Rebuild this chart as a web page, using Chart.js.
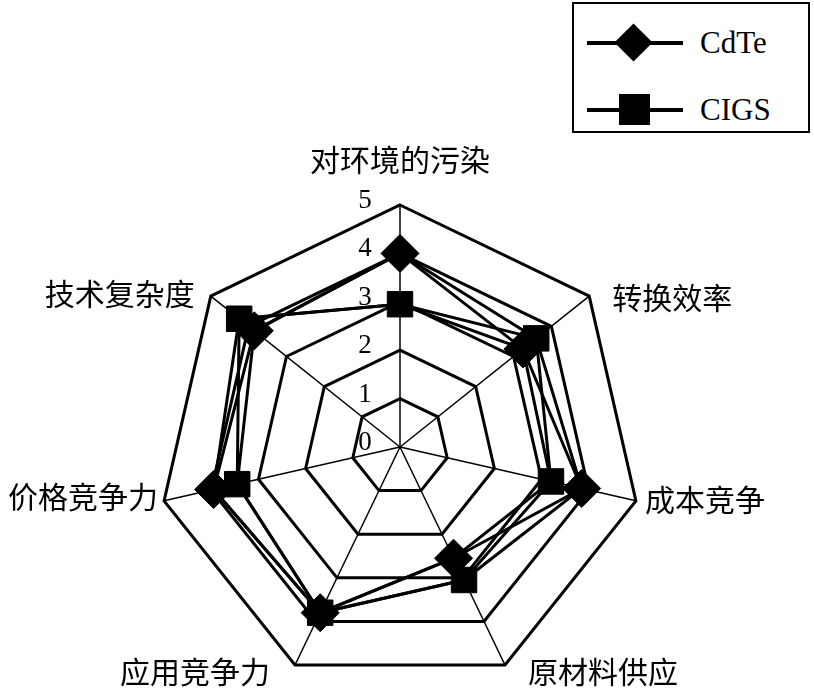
<!DOCTYPE html>
<html>
<head>
<meta charset="utf-8">
<script src="https://cdn.jsdelivr.net/npm/chart.js@4/dist/chart.umd.min.js"></script>
<style>
  html, body { margin: 0; padding: 0; background: #fff; }
  #wrap { position: relative; width: 814px; height: 689px; }
  #legend {
    position: absolute; left: 572px; top: 2px; width: 234px; height: 127px;
    border: 2px solid #000; background: #fff;
    font-family: "Liberation Serif", "DejaVu Serif", serif; font-size: 31px; color: #000;
  }
  .item { position: absolute; left: 0; width: 234px; height: 40px; }
  .ln { position: absolute; left: 13px; width: 96px; top: 18px; height: 4px; background: #000; }
  .dia { position: absolute; left: 46px; top: 6px; width: 27px; height: 27px; background: #000; transform: rotate(45deg); }
  .sq { position: absolute; left: 45px; top: 4px; width: 31px; height: 31px; background: #000; }
  .txt { position: absolute; left: 126px; top: 0; line-height: 40px; }
</style>
</head>
<body>
<div id="wrap">
  <canvas id="c" width="814" height="689"></canvas>
  <div id="legend">
    <div class="item" style="top:19px"><div class="ln"></div><div class="dia"></div><div class="txt" id="l0"></div></div>
    <div class="item" style="top:86px"><div class="ln"></div><div class="sq"></div><div class="txt" id="l1"></div></div>
  </div>
</div>
<script>
// ---- data ----
const categories = ['对环境的污染', '转换效率', '成本竞争', '原材料供应', '应用竞争力', '价格竞争力', '技术复杂度'];
const seriesNames = ['CdTe', 'CIGS'];
const cdte = [4.0, 3.25, 3.85, 2.55, 3.8, 3.95, 3.85];
const cigs = [2.95, 3.6, 3.2, 3.05, 3.8, 3.45, 4.25];
// extra connecting lines visible in the reference (no markers, not in legend)
const crossA = [4.0, 3.6, 3.85, 3.05, 3.8, 3.45, 3.85];
const crossB = [2.95, 3.25, 3.2, 2.55, 3.8, 3.95, 4.25];
const tickValues = [0, 1, 2, 3, 4, 5];

// ---- label placement (styles, kept separate from data) ----
const labelStyle = [
  { align: 'center', dx: 0, dy: -45 },
  { align: 'left', dx: 23, dy: 1 },
  { align: 'left', dx: 9, dy: -1 },
  { align: 'left', dx: 23, dy: 7 },
  { align: 'right', dx: -25, dy: 7 },
  { align: 'right', dx: -6, dy: -4 },
  { align: 'right', dx: -16, dy: -3 }
];

document.getElementById('l0').textContent = seriesNames[0];
document.getElementById('l1').textContent = seriesNames[1];

const labelPlugin = {
  id: 'labelPlugin',
  afterDraw(chart) {
    const s = chart.scales.r;
    const ctx = chart.ctx;
    ctx.save();
    ctx.fillStyle = '#000';
    // category labels
    ctx.font = '30px "Noto Sans CJK SC", sans-serif';
    ctx.textBaseline = 'middle';
    categories.forEach((c, i) => {
      const p = s.getPointPosition(i, s.drawingArea);
      const st = labelStyle[i];
      ctx.textAlign = st.align;
      ctx.fillText(c, p.x + st.dx, p.y + st.dy);
    });
    // tick labels, left of the vertical axis
    ctx.font = '27px "Liberation Serif", serif';
    ctx.textAlign = 'center';
    tickValues.forEach(v => {
      const d = s.getDistanceFromCenterForValue(v);
      ctx.fillText(String(v), s.xCenter - 35, s.yCenter - d - 4);
    });
    ctx.restore();
  }
};

const lineOnly = (data) => ({
  data, borderColor: '#000', borderWidth: 3, pointRadius: 0, fill: false, backgroundColor: 'transparent'
});

new Chart(document.getElementById('c'), {
  type: 'radar',
  data: {
    labels: categories,
    datasets: [
      Object.assign({ label: 'a' }, lineOnly(crossA)),
      Object.assign({ label: 'b' }, lineOnly(crossB)),
      {
        label: seriesNames[0], data: cdte, borderColor: '#000', borderWidth: 3, fill: false,
        backgroundColor: 'transparent', pointStyle: 'rectRot', pointRadius: 19,
        pointBackgroundColor: '#000', pointBorderColor: '#000', pointBorderWidth: 1
      },
      {
        label: seriesNames[1], data: cigs, borderColor: '#000', borderWidth: 3, fill: false,
        backgroundColor: 'transparent', pointStyle: 'rect', pointRadius: 18,
        pointBackgroundColor: '#000', pointBorderColor: '#000', pointBorderWidth: 1
      }
    ]
  },
  options: {
    responsive: false,
    animation: false,
    layout: { padding: { left: 158, right: 172, top: 205, bottom: 0 } },
    plugins: { legend: { display: false }, tooltip: { enabled: false } },
    elements: { line: { tension: 0 } },
    scales: {
      r: {
        min: 0, max: 5,
        ticks: { stepSize: 1, display: false },
        grid: { color: '#000', lineWidth: 3, circular: false },
        angleLines: { color: '#000', lineWidth: 1.5 },
        pointLabels: { display: false }
      }
    }
  },
  plugins: [labelPlugin]
});
</script>
</body>
</html>
